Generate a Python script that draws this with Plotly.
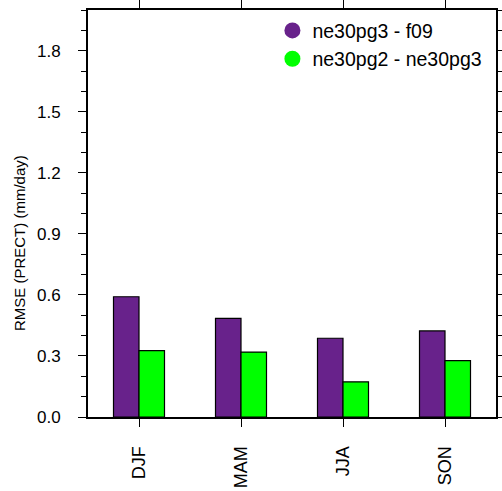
import plotly.graph_objects as go

seasons = ["DJF", "MAM", "JJA", "SON"]
series_names = ["ne30pg3 - f09", "ne30pg2 - ne30pg3"]
rmse_pg3_f09 = [0.591, 0.485, 0.387, 0.423]
rmse_pg2_pg3 = [0.326, 0.319, 0.173, 0.277]
colors = ["#68228B", "#00FF00"]
y_title = "RMSE (PRECT) (mm/day)"

FONT = "Liberation Sans, Arial, sans-serif"

fig = go.Figure()
for name, vals, col in zip(series_names, [rmse_pg3_f09, rmse_pg2_pg3], colors):
    fig.add_trace(go.Bar(
        x=seasons, y=vals, name=name, showlegend=False,
        marker=dict(color=col, line=dict(color="black", width=1.2)),
    ))
for name, col in zip(series_names, colors):
    fig.add_trace(go.Scatter(
        x=[None], y=[None], mode="markers", name=name,
        marker=dict(color=col, size=16, symbol="circle"),
    ))

fig.update_layout(
    width=502, height=491,
    margin=dict(l=88, r=6, t=10, b=74),
    paper_bgcolor="white", plot_bgcolor="white",
    barmode="group", bargap=0.5, bargroupgap=0,
    font=dict(family=FONT, color="black"),
    legend=dict(
        x=0.452, y=0.997, xanchor="left", yanchor="top",
        bgcolor="rgba(0,0,0,0)", font=dict(size=19.5, family=FONT),
        itemsizing="trace", tracegroupgap=0,
    ),
    annotations=[dict(
        text=y_title, textangle=-90, xref="paper", yref="paper",
        x=-0.169, y=0.4275, xanchor="center", yanchor="middle",
        showarrow=False, font=dict(size=15, family=FONT),
    )],
)
fig.update_xaxes(
    type="category", categoryorder="array", categoryarray=seasons,
    range=[-0.5, 3.5], automargin=False,
    showline=True, linecolor="black", linewidth=2, mirror="allticks",
    ticks="outside", ticklen=8, tickwidth=1, tickcolor="black",
    tickangle=-90, tickfont=dict(size=18), ticklabelstandoff=12,
    showgrid=False, zeroline=False,
)
fig.update_yaxes(
    range=[0, 2.0], dtick=0.3, tick0=0, tickformat=".1f", automargin=False,
    showline=True, linecolor="black", linewidth=2, mirror="allticks",
    ticks="outside", ticklen=8, tickwidth=1, tickcolor="black",
    minor=dict(dtick=0.1, ticks="outside", ticklen=5, tickwidth=1, tickcolor="black"),
    tickfont=dict(size=17), ticklabelstandoff=14,
    showgrid=False, zeroline=False,
)

fig.write_html("out.html")
